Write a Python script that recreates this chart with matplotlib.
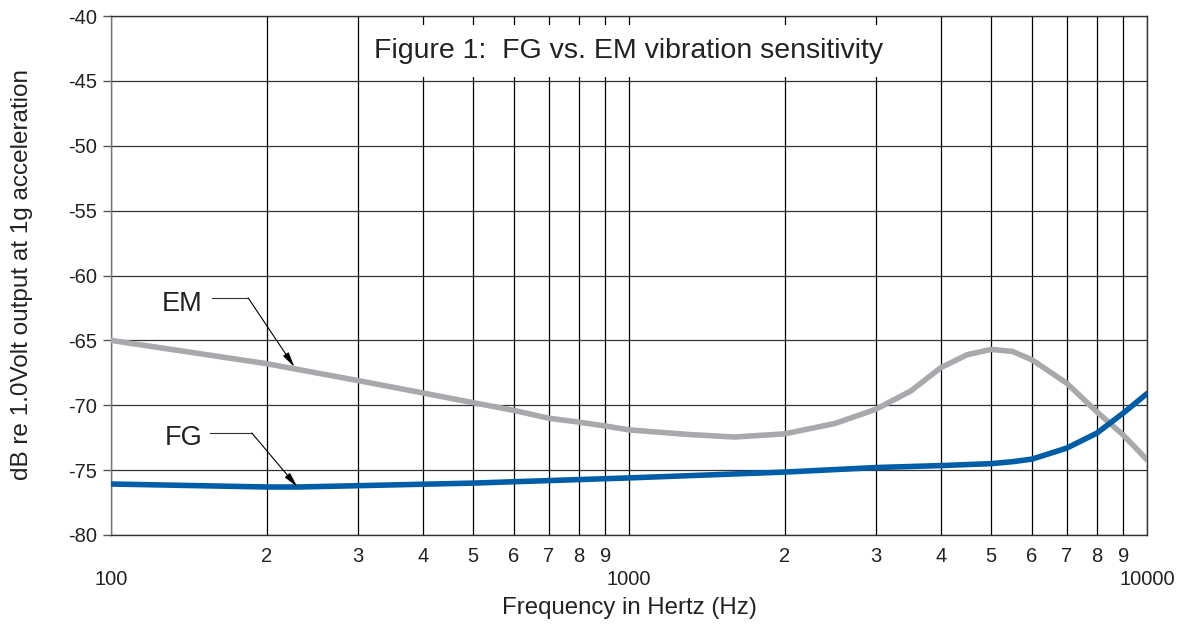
import matplotlib
matplotlib.use("Agg")
import matplotlib.pyplot as plt
from matplotlib.ticker import LogLocator, FixedLocator, FuncFormatter
import numpy as np

plt.rcParams['font.family'] = ['Liberation Sans', 'DejaVu Sans']

em_freq = [100, 200, 300, 400, 500, 600, 700, 800, 900, 1000, 1300, 1600, 2000, 2500,
           3000, 3500, 4000, 4500, 5000, 5500, 6000, 7000, 8000, 9000, 10000]
em_db = [-65.0, -66.8, -68.1, -69.05, -69.8, -70.4, -71.0, -71.3, -71.6, -71.9, -72.25, -72.45,
         -72.2, -71.4, -70.3, -68.9, -67.1, -66.1, -65.7, -65.85, -66.5, -68.3, -70.5, -72.3, -74.2]

fg_freq = [100, 200, 230, 300, 500, 1000, 2000, 3000, 4000, 5000, 5500, 6000, 7000, 8000, 9000, 10000]
fg_db = [-76.07, -76.3, -76.3, -76.2, -76.0, -75.6, -75.15, -74.8, -74.65, -74.5, -74.35, -74.15,
         -73.3, -72.15, -70.6, -69.1]

y_ticks = [-80, -75, -70, -65, -60, -55, -50, -45, -40]
title_text = "Figure 1:  FG vs. EM vibration sensitivity"
x_label = "Frequency in Hertz (Hz)"
y_label = "dB re 1.0Volt output at 1g acceleration"

fig = plt.figure(figsize=(11.84, 6.25), dpi=100)
ax = fig.add_axes([111/1184, 1-535/625, (1147-111)/1184, (535-16)/625])

ax.set_xscale('log')
ax.set_xlim(100, 10000)
ax.set_ylim(-80, -40)

ax.xaxis.set_major_locator(FixedLocator([100, 1000, 10000]))
ax.xaxis.set_minor_locator(LogLocator(base=10, subs=np.arange(2, 10)))
ax.xaxis.set_major_formatter(FuncFormatter(lambda v, p: f"{int(round(v))}"))
ax.xaxis.set_minor_formatter(FuncFormatter(lambda v, p: f"{int(round(v / 10**np.floor(np.log10(v))))}"))
ax.set_yticks(y_ticks)
ax.set_yticklabels([str(t) for t in y_ticks])

ax.tick_params(axis='x', which='both', length=0, labelsize=14.5, colors='#222222')
ax.tick_params(axis='x', which='minor', pad=9)
ax.tick_params(axis='x', which='major', pad=25)
ax.tick_params(axis='y', which='major', length=6, width=1, color='#555555', labelsize=14.5,
               labelcolor='#222222', pad=4)

ax.grid(True, axis='x', which='both', color='black', lw=0.9, zorder=1)
ax.grid(True, axis='y', which='major', color='#333333', lw=0.9, zorder=1)
ax.set_axisbelow(True)

for s in ['top', 'right', 'bottom']:
    ax.spines[s].set_color('#333333')
    ax.spines[s].set_linewidth(1)
ax.spines['left'].set_color('#777777')
ax.spines['left'].set_linewidth(1)

ax.plot(em_freq, em_db, color='#a7a9ac', lw=4.0, solid_capstyle='round', zorder=3)
ax.plot(fg_freq, fg_db, color='#005da8', lw=4.0, solid_capstyle='round', zorder=4)

ax.text(0.5, 0.932, title_text, transform=ax.transAxes, ha='center', va='center',
        fontsize=20.5, color='#222222', zorder=5,
        bbox=dict(facecolor='white', edgecolor='none', boxstyle='square,pad=0.45'))

# annotations
for label, start, elbow, tip, ty in [("EM", (157, -61.73), (184, -61.73), (226, -67.05), -62.2),
                                     ("FG", (155, -72.14), (187, -72.14), (229, -76.3), -72.5)]:
    ax.text(150, ty, label, ha='right', va='center', fontsize=19.5, color='#222222', zorder=5)
    ax.plot([start[0], elbow[0]], [start[1], elbow[1]], color='#333333', lw=0.8, zorder=5)
    ax.annotate("", xy=tip, xytext=elbow,
                arrowprops=dict(arrowstyle='-|>,head_length=0.9,head_width=0.2', color='black',
                                lw=0.8, shrinkA=0, shrinkB=0), zorder=5)

fig.text(629/1184, 1-608/625, x_label, ha='center', va='center', fontsize=17.3, color='#222222')
fig.text(22/1184, 1-275/625, y_label, ha='center', va='center', rotation=90, fontsize=17.5,
         color='#222222')

fig.savefig("out.png", dpi=100)
